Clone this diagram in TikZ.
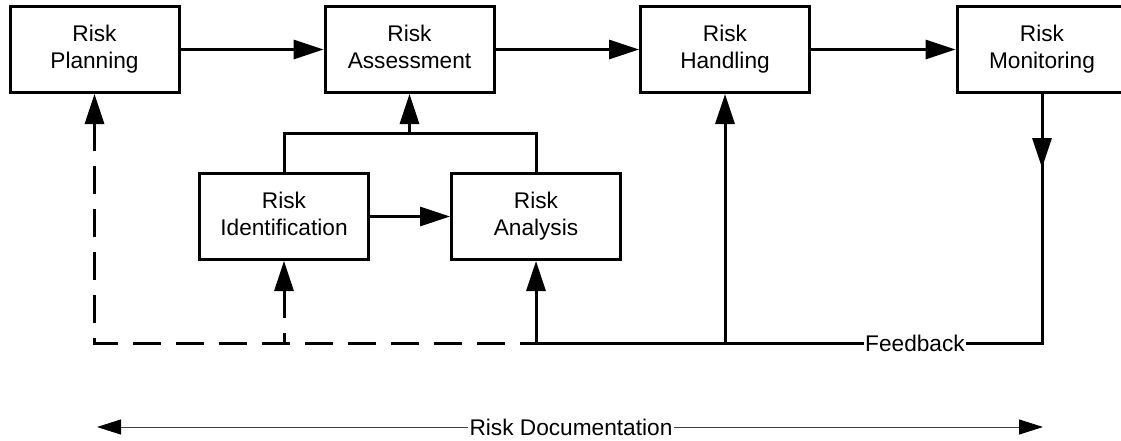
\documentclass[tikz,border=0pt]{standalone}
\usepackage{fontspec}
\setmainfont{Liberation Sans}
\usetikzlibrary{arrows.meta}
\tikzset{
  bigtri/.tip={Triangle[length=22.5pt,width=14.25pt]},
  smalltri/.tip={Triangle[length=18pt,width=11.25pt,color=black]},
}
\begin{document}
\begin{tikzpicture}[x=0.75pt,y=-0.75pt,
  box/.style={draw, line width=2.25pt, minimum width=126.75pt, minimum height=64.5pt,
              align=center, inner sep=0pt, font=\fontsize{17pt}{20pt}\selectfont,
              execute at end node={\vrule width 0pt height 0pt depth 3.7pt}},
  link/.style={line width=2.25pt},
  flow/.style={link, -bigtri},
  fbdash/.style={link, dash pattern=on 21pt off 11.25pt, bigtri-},
  doc/.style={line width=0.75pt, draw=black!75, smalltri-smalltri},
  lbl/.style={fill=white, inner sep=1pt, font=\fontsize{17pt}{20pt}\selectfont}]
\useasboundingbox (0,0) rectangle (1121,440);
\clip (0,0) rectangle (1121,440);

% process boxes
\node[box] (plan)     at (94.5,49.5)  {Risk\\Planning};
\node[box] (assess)   at (409.5,49.5) {Risk\\Assessment};
\node[box] (handle)   at (725,49.5)   {Risk\\Handling};
\node[box, minimum width=127.5pt] (monitor) at (1042,49.5) {Risk\\Monitoring};
\node[box] (ident)    at (284,216.5)  {Risk\\Identification};
\node[box] (analysis) at (536,216.5)  {Risk\\Analysis};

% junction and feedback routing points
\coordinate (join)   at (409.5,133);
\coordinate (monMid) at (1042,168);
\coordinate (fbM)    at (1042,343);
\coordinate (fbH)    at (725,343);
\coordinate (fbA)    at (536,343);
\coordinate (fbI)    at (284,343);
\coordinate (fbP)    at (94.5,343);
\coordinate (docL)   at (97,427);
\coordinate (docR)   at (1043,427);

% main flow
\draw[flow] (plan) -- (assess);
\draw[flow] (assess) -- (handle);
\draw[flow] (handle) -- (monitor);
\draw[flow] (ident) -- (analysis);

% assessment sub-steps
\draw[link] (ident.north) |- (join) -| (analysis.north);
\draw[flow] (join) -- (assess.south);

% feedback loop
\draw[link] (monitor.south) -- (fbM) -- (fbA);
\draw[flow] (monitor.south) -- (monMid);
\draw[flow] (fbA) -- (analysis.south);
\draw[flow] (fbH) -- (handle.south);
\draw[fbdash] (plan.south) -- (fbP) -- (fbA);
\draw[fbdash] (ident.south) -- (fbI);

% documentation span
\draw[doc] (docL) -- (docR);

% labels on the lines
\node[lbl] (fblabel)  at (915,343) {Feedback};
\node[lbl] (doclabel) at (571,427) {Risk Documentation};
\end{tikzpicture}
\end{document}
